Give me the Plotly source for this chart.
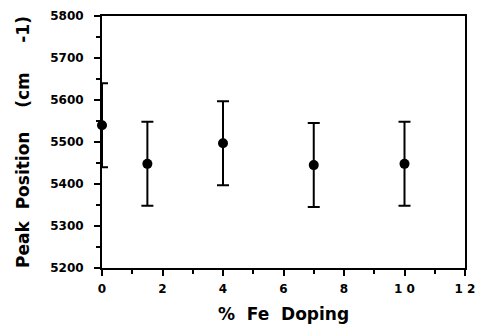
import plotly.graph_objects as go

doping = [0, 1.5, 4, 7, 10]
peak = [5540, 5448, 5497, 5445, 5448]
err = [100, 100, 100, 100, 100]
x_ticks = [0, 2, 4, 6, 8, 10, 12]
x_labels = ["0", "2", "4", "6", "8", "1 0", "1 2"]
y_ticks = [5200, 5300, 5400, 5500, 5600, 5700, 5800]

fig = go.Figure()
fig.add_trace(go.Scatter(
    x=doping, y=peak, mode="markers",
    marker=dict(color="black", size=10),
    error_y=dict(type="data", array=err, visible=True, color="black", thickness=2, width=6),
    cliponaxis=False,
))

font = "DejaVu Sans, sans-serif"
fig.update_layout(
    width=478, height=324,
    margin=dict(l=102, r=13, t=16, b=56),
    paper_bgcolor="white", plot_bgcolor="white",
    showlegend=False,
    font=dict(family=font, color="black"),
)
fig.update_xaxes(
    range=[0, 12], tickvals=x_ticks, ticktext=x_labels,
    automargin=False,
    showgrid=False, zeroline=False,
    showline=True, linecolor="black", linewidth=2, mirror=True,
    ticks="outside", ticklen=6, tickwidth=1.5, tickcolor="black",
    minor=dict(dtick=1, ticks="outside", ticklen=4, tickwidth=1.5, tickcolor="black"),
    tickfont=dict(size=12, family=font, weight="bold"),
    ticklabelstandoff=3,
    title=dict(text="%&nbsp;&nbsp;Fe&nbsp;&nbsp;Doping", font=dict(size=17, family=font, weight="bold"), standoff=13),
)
fig.update_yaxes(
    range=[5200, 5800], tickvals=y_ticks,
    automargin=False,
    showgrid=False, zeroline=False,
    showline=True, linecolor="black", linewidth=2, mirror=True,
    ticks="outside", ticklen=6, tickwidth=1.5, tickcolor="black",
    minor=dict(dtick=50, ticks="outside", ticklen=4, tickwidth=1.5, tickcolor="black"),
    tickfont=dict(size=12, family=font, weight="bold"),
    ticklabelstandoff=8,
    title=dict(text="Peak&nbsp;&nbsp;Position&nbsp;&nbsp;&nbsp;&nbsp;(cm&nbsp;&nbsp;&nbsp;&nbsp;&nbsp;-1)",
               font=dict(size=17, family=font, weight="bold"), standoff=16),
)
fig.write_html("out.html", config={"displayModeBar": False},
               post_script="document.body.style.margin='0';document.body.style.overflow='hidden';")
